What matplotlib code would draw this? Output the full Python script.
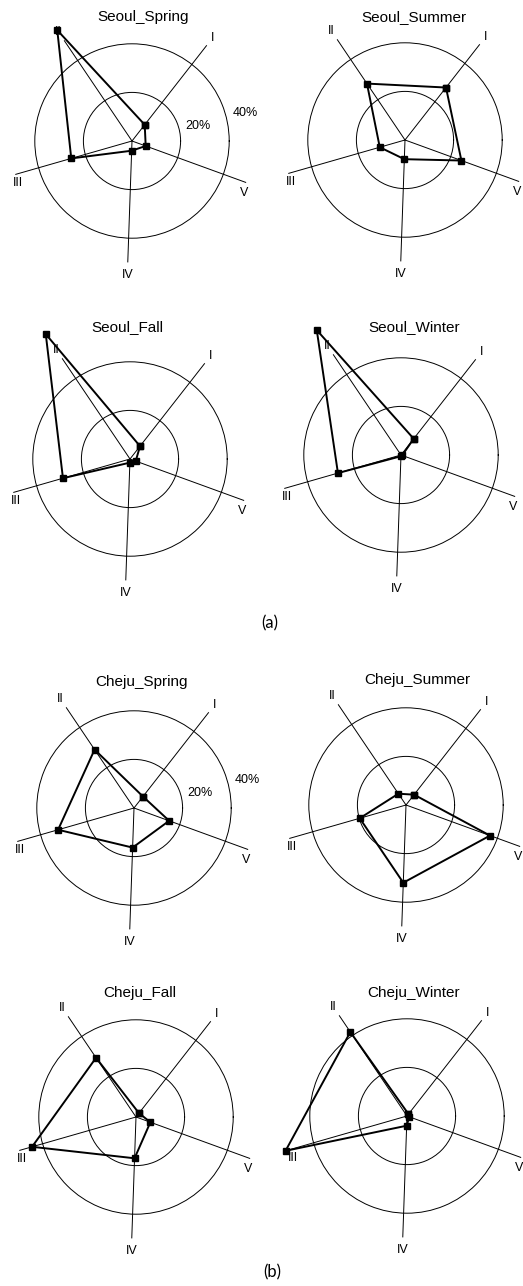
import numpy as np
import matplotlib.pyplot as plt

plt.rcParams['font.family'] = ['Liberation Sans', 'DejaVu Sans']

# 자료: 다섯 유형(I~V)의 계절별 비율 (%)
axes_names = ['I', 'II', 'III', 'IV', 'V']
panel_titles = ['Seoul_Spring', 'Seoul_Summer', 'Seoul_Fall', 'Seoul_Winter',
                'Cheju_Spring', 'Cheju_Summer', 'Cheju_Fall', 'Cheju_Winter']

seoul_spring = [8.5, 55, 26, 4, 6]
seoul_summer = [27.4, 28, 10.8, 7.9, 24.7]
seoul_fall = [6.7, 62, 28.7, 1.5, 2.5]
seoul_winter = [8.5, 62, 27, 0.5, 0.5]
cheju_spring = [6, 29, 32.5, 16.3, 15.4]
cheju_summer = [5.4, 5.6, 19.8, 32, 36.8]
cheju_fall = [2, 29.4, 44.5, 17, 6.3]
cheju_winter = [1, 41.7, 52, 4, 1]

values = [seoul_spring, seoul_summer, seoul_fall, seoul_winter,
          cheju_spring, cheju_summer, cheju_fall, cheju_winter]

ring_levels = [20, 40]

# 배치 (픽셀)
W, H = 523, 1286
centers = [(132, 141), (405, 140), (130, 459), (401, 455),
           (134, 808), (406, 805), (136, 1117), (407, 1116)]
title_pos = [(143, 17), (414, 17), (127, 327), (414, 327),
             (142, 682), (417, 680), (140, 993), (414, 993)]
axis_deg = np.array([52, 124, 196, 268, 340])
label_deg = np.array([52, 124, 200, 268, 335])
label_r = [54, 54, 50, 55, 51]
rmax = 50
px_per_unit = 2.43
R = rmax * px_per_unit

fig = plt.figure(figsize=(W / 100, H / 100), dpi=100)

theta = np.deg2rad(axis_deg)
for i, vals in enumerate(values):
    cx, cy = centers[i]
    ax = fig.add_axes([(cx - R) / W, (H - cy - R) / H, 2 * R / W, 2 * R / H],
                      projection='polar')
    ax.patch.set_alpha(0)
    ax.set_ylim(0, rmax)
    ax.spines['polar'].set_visible(False)
    ax.set_thetagrids(axis_deg, labels=[''] * 5)
    ax.set_rgrids(ring_levels, labels=['', ''])
    ax.tick_params(axis='both', length=0, width=0, pad=0)
    ax.xaxis.grid(True, color='black', lw=0.7)
    ax.yaxis.grid(True, color='black', lw=0.7)

    t = np.append(theta, theta[0])
    v = np.append(vals, vals[0])
    ax.plot(t, v, '-s', color='black', lw=1.4, ms=5, clip_on=False, zorder=5)

    for name, d, r in zip(axes_names, label_deg, label_r):
        ax.text(np.deg2rad(d), r, name, ha='center', va='center',
                fontsize=9)

    if i in (0, 4):
        ax.text(np.deg2rad(13), 28, '20%', ha='center', va='center', fontsize=9)
        ax.text(np.deg2rad(14), 48, '40%', ha='center', va='center', fontsize=9)

    tx, ty = title_pos[i]
    fig.text(tx / W, 1 - ty / H, panel_titles[i], ha='center', va='center',
             fontsize=11)

fig.text(270 / W, 1 - 623 / H, '(a)', ha='center', va='center', fontsize=12,
         family=['Lato', 'DejaVu Sans'])
fig.text(272 / W, 1 - 1272 / H, '(b)', ha='center', va='center', fontsize=12,
         family=['Lato', 'DejaVu Sans'])

fig.savefig('out.png', dpi=100)
